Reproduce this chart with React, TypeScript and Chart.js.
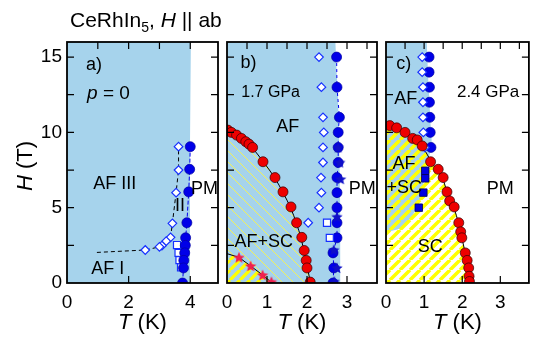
import React, { useEffect, useRef } from "react";
import { Chart, registerables } from "chart.js";
Chart.register(...registerables);

type P = [number, number]; // [T (K), H (T)]

// ---------- panel a : p = 0 ----------
const aNeelCircles: P[] = [[4.0, 9.05], [3.98, 7.55], [3.95, 6.05], [3.89, 4.0], [3.85, 3.0], [3.84, 2.5], [3.82, 2.0], [3.79, 1.5], [3.78, 1.0], [3.75, 0.0]];
const aDiamonds: P[] = [[3.62, 9.05], [3.62, 7.5], [3.54, 6.0], [3.42, 3.96], [3.36, 3.03], [3.22, 2.78], [3.08, 2.48], [3.0, 2.4], [2.54, 2.19]];
const aSquares: P[] = [[3.57, 2.52], [3.62, 2.0], [3.65, 1.52], [3.7, 1.04]];
const aPhaseLine: P[] = [[0.97, 2.03], [2.54, 2.19], [3.0, 2.4], [3.22, 2.78], [3.36, 3.03], [3.42, 3.96], [3.54, 6.0], [3.62, 7.5], [3.62, 9.05]];
const aAfEdge: P[] = [[3.98, 0], [3.99, 9], [4.02, 16]];

// ---------- panel b : 1.7 GPa ----------
const bNeelCircles: P[] = [[2.74, 15], [2.75, 13], [2.81, 11], [2.78, 10], [2.78, 9], [2.78, 8], [2.75, 7], [2.75, 6], [2.75, 5], [2.75, 4], [2.75, 3], [2.65, 2], [2.67, 1], [2.65, 0]];
const bNeelStars: P[] = [[2.78, 9], [2.82, 8], [2.84, 6.9], [2.75, 4.4], [2.67, 2.2], [2.75, 1.0], [2.68, 0.1]];
const bDiamonds: P[] = [[2.3, 15], [2.36, 13], [2.4, 11], [2.42, 10], [2.4, 9], [2.4, 8], [2.35, 7], [2.36, 6], [2.3, 5], [2.03, 4]];
const bSquares: P[] = [[2.5, 4.0], [2.57, 3.0]];
const bHc2Circles: P[] = [[0.02, 10.15], [0.11, 10.0], [0.24, 9.82], [0.36, 9.6], [0.47, 9.38], [0.55, 9.22], [0.64, 9.0], [0.9, 8.05], [1.2, 7.0], [1.4, 6.05], [1.6, 5.05], [1.74, 4.0], [1.87, 3.03], [1.93, 2.16], [1.98, 1.5], [2.0, 1.0], [2.08, 0.06]];
const bBulkStars: P[] = [[0.3, 1.7], [0.59, 1.13], [0.89, 0.53], [1.11, 0.08]];
const bHc2Line: P[] = [[2.09, 0], [2.01, 1], [1.93, 2], [1.85, 3], [1.73, 4], [1.59, 5], [1.4, 6], [1.19, 7], [0.92, 8], [0.62, 9], [0.32, 9.75], [0, 10.15]];
const bBulkLine: P[] = [[1.13, 0], [0.89, 0.53], [0.59, 1.13], [0.3, 1.7], [0, 1.95]];
const bAfEdge: P[] = [[2.84, 0], [2.83, 5], [2.8, 10], [2.77, 12.8], [2.74, 14], [2.71, 16]];

// ---------- panel c : 2.4 GPa ----------
const cNeelCircles: P[] = [[1.13, 15], [1.13, 14], [1.14, 13], [1.14, 12], [1.15, 11], [1.16, 10], [1.18, 9]];
const cDiamonds: P[] = [[0.95, 15], [0.95, 14], [0.97, 13], [0.97, 12], [0.97, 11], [0.98, 10], [1.02, 9]];
const cSquares: P[] = [[1.03, 7.45], [1.03, 6.95], [0.98, 6.0], [0.86, 5.0]];
const cHc2Circles: P[] = [[0.1, 10.45], [0.28, 10.3], [0.5, 10.0], [0.7, 9.6], [0.82, 9.5], [0.95, 9.1], [1.17, 8.05], [1.37, 7.55], [1.5, 7.0], [1.6, 6.05], [1.67, 5.45], [1.79, 5.05], [1.91, 4.0], [1.96, 3.4], [1.99, 3.0], [2.08, 2.0], [2.13, 1.5], [2.17, 1.0], [2.18, 0.45], [2.19, 0.1]];
const cHc2Line: P[] = [[2.2, 0], [2.18, 0.5], [2.16, 1.0], [2.08, 2.0], [1.99, 3.0], [1.9, 4.0], [1.78, 5.0], [1.61, 6.0], [1.47, 7.0], [1.2, 8.0], [0.96, 9.0], [0.65, 9.75], [0.3, 10.25], [0, 10.5]];
const cAfEdge: P[] = [[0, 3.4], [0.3, 3.55], [0.5, 3.9], [0.7, 4.5], [0.85, 5.2], [0.95, 6.2], [1.03, 7.2], [1.12, 8.3], [1.2, 9.2], [1.17, 10.5], [1.14, 12], [1.1, 14], [1.07, 16]];

// ---------- axes ----------
const H_MAX = 16;
const hTicks = [2.5, 5, 7.5, 10, 12.5, 15];
const aTMax = 4.9;
const bcTMax = 3.75;
const aTopTicks = [1, 2, 3, 4];
const aBottomTicks = [2, 4];
const bcTopTicks = [0.5, 1, 1.5, 2, 2.5, 3, 3.5];
const bcBottomTicks = [1, 2, 3];

const FONT = '"Liberation Sans", Arial, Helvetica, sans-serif';
const BLUE_FILL = "#a6d3ec";
const BLUE = "#0000ee";
const RED = "#ee0000";

type Seg = { t: string; it?: boolean; sub?: boolean };
type Label = { T: number; H: number; segs: Seg[]; size?: number; align?: "left" | "center" };

function drawRich(ctx: CanvasRenderingContext2D, segs: Seg[], x: number, yc: number, size: number, align: "left" | "center") {
  const fontOf = (s: Seg) => `${s.it ? "italic " : ""}${s.sub ? Math.round(size * 0.65) : size}px ${FONT}`;
  let w = 0;
  for (const s of segs) { ctx.font = fontOf(s); w += ctx.measureText(s.t).width; }
  let cx = align === "center" ? x - w / 2 : x;
  const base = yc + size * 0.358;
  ctx.textBaseline = "alphabetic";
  ctx.textAlign = "left";
  ctx.fillStyle = "#000";
  for (const s of segs) {
    ctx.font = fontOf(s);
    ctx.fillText(s.t, cx, s.sub ? base + size * 0.22 : base);
    cx += ctx.measureText(s.t).width;
  }
}

function decor(o: { xTop: number[]; xBottom: number[]; labels: Label[]; extra?: (c: any) => void }) {
  return {
    id: "decor",
    afterDatasetsDraw(chart: any) {
      const { ctx, chartArea: ca, scales } = chart;
      const x = scales.x, y = scales.y;
      ctx.save();
      for (const l of o.labels) {
        drawRich(ctx, l.segs, x.getPixelForValue(l.T), y.getPixelForValue(l.H), l.size ?? 18, l.align ?? "center");
      }
      const L = 7;
      ctx.strokeStyle = "#000";
      ctx.lineWidth = 1.2;
      ctx.beginPath();
      for (const v of o.xTop) { const p = x.getPixelForValue(v); ctx.moveTo(p, ca.top); ctx.lineTo(p, ca.top + L); }
      for (const v of o.xBottom) { const p = x.getPixelForValue(v); ctx.moveTo(p, ca.bottom); ctx.lineTo(p, ca.bottom - L); }
      for (const v of hTicks) {
        const p = y.getPixelForValue(v);
        ctx.moveTo(ca.left, p); ctx.lineTo(ca.left + L, p);
        ctx.moveTo(ca.right, p); ctx.lineTo(ca.right - L, p);
      }
      ctx.stroke();
      ctx.lineWidth = 1.8;
      ctx.strokeRect(ca.left, ca.top, ca.right - ca.left, ca.bottom - ca.top);
      const xt = (ca.left + ca.right) / 2;
      drawRich(ctx, [{ t: "T", it: true }, { t: " (K)" }], xt, 321.5, 22, "center");
      if (o.extra) o.extra(chart);
      ctx.restore();
    },
  };
}

function stripes(size: number, width: number, color: string, dir: 1 | -1, bg?: string) {
  const c = document.createElement("canvas");
  c.width = size; c.height = size;
  const g = c.getContext("2d")!;
  if (bg) { g.fillStyle = bg; g.fillRect(0, 0, size, size); }
  g.strokeStyle = color; g.lineWidth = width;
  g.beginPath();
  for (let k = -1; k <= 1; k++) {
    if (dir === 1) { g.moveTo(k * size, size); g.lineTo(k * size + size, 0); }
    else { g.moveTo(k * size, 0); g.lineTo(k * size + size, size); }
  }
  g.stroke();
  return g.createPattern(c, "repeat")!;
}

function starImg(color: string, R: number) {
  const s = Math.ceil(R * 2 + 2);
  const c = document.createElement("canvas");
  c.width = s; c.height = s;
  const g = c.getContext("2d")!;
  g.translate(s / 2, s / 2 + 0.5);
  g.beginPath();
  for (let i = 0; i < 10; i++) {
    const r = i % 2 === 0 ? R : R * 0.45;
    const a = -Math.PI / 2 + (i * Math.PI) / 5;
    g.lineTo(r * Math.cos(a), r * Math.sin(a));
  }
  g.closePath();
  g.fillStyle = color; g.fill();
  return c;
}

const pts = (a: P[]) => a.map(([x, y]) => ({ x, y }));
const markers = (data: P[], o: any) => ({ data: pts(data), showLine: false, clip: 0, ...o });
const region = (data: P[], bg: any, o: any = {}) => ({
  data: pts(data), indexAxis: "y", fill: "origin", backgroundColor: bg, borderWidth: 0, pointRadius: 0, tension: 0, ...o,
});
const circle = (bg: string, bd: string) => ({ pointStyle: "circle", pointRadius: 5, pointBackgroundColor: bg, pointBorderColor: bd, pointBorderWidth: 0.7 });
const diamond = { pointStyle: "rectRot", pointRadius: 4.3, pointBackgroundColor: "#fff", pointBorderColor: "#1530ff", pointBorderWidth: 1.2, order: 4 };
const openSquare = { pointStyle: "rect", pointRadius: 5, pointBackgroundColor: "#fff", pointBorderColor: "#1530ff", pointBorderWidth: 1.2, order: 4 };

function build(canvas: HTMLCanvasElement, cfg: { xMax: number; xStep: number; left: number; right: number; yAxis: boolean; datasets: any[]; plugin: any }) {
  const tickFont = { family: FONT, size: 19 };
  return new Chart(canvas, {
    type: "line",
    data: { datasets: cfg.datasets },
    options: {
      animation: false,
      responsive: false,
      devicePixelRatio: 1,
      events: [],
      layout: { padding: { left: cfg.left, right: cfg.right, top: 42, bottom: 0 } },
      plugins: { legend: { display: false }, tooltip: { enabled: false } },
      scales: {
        x: {
          type: "linear", min: 0, max: cfg.xMax,
          grid: { display: false, drawTicks: false, tickLength: 0 },
          border: { display: false },
          ticks: { stepSize: cfg.xStep, includeBounds: false, autoSkip: false, maxRotation: 0, padding: 8, color: "#000", font: tickFont },
          afterFit: (s: any) => { s.height = 56; },
        },
        y: cfg.yAxis
          ? {
              type: "linear", min: 0, max: H_MAX,
              grid: { display: false, drawTicks: false, tickLength: 0 },
              border: { display: false },
              ticks: { stepSize: 5, includeBounds: false, autoSkip: false, padding: 5, color: "#000", font: tickFont },
              afterFit: (s: any) => { s.width = 67; },
            }
          : { type: "linear", min: 0, max: H_MAX, display: false },
      },
    } as any,
    plugins: [cfg.plugin],
  });
}

export default function App() {
  const ra = useRef<HTMLCanvasElement>(null);
  const rb = useRef<HTMLCanvasElement>(null);
  const rc = useRef<HTMLCanvasElement>(null);

  useEffect(() => {
    const thin = stripes(11, 1, "#f2f25a", -1);
    const thickBlue = stripes(10, 3.3, "#ffff00", 1, BLUE_FILL);
    const thick = stripes(10, 3.5, "#ffff00", 1);
    const redStar = starImg("#f0204e", 6);
    const blueStar = starImg("#1010c8", 6);

    const chartA = build(ra.current!, {
      xMax: aTMax, xStep: 2, left: 0, right: 317, yAxis: true,
      datasets: [
        region(aAfEdge, BLUE_FILL, { order: 20 }),
        { data: pts(aPhaseLine), borderColor: "#000", borderWidth: 1, borderDash: [4, 3], pointRadius: 0, order: 10 },
        markers(aSquares, openSquare),
        markers(aDiamonds, diamond),
        { data: pts(aNeelCircles), clip: 0, borderColor: BLUE, borderWidth: 1, borderDash: [4, 2], ...circle("#0000e8", "#0000a0"), order: 3 },
      ],
      plugin: decor({
        xTop: aTopTicks, xBottom: aBottomTicks,
        labels: [
          { T: 0.62, H: 14.6, segs: [{ t: "a)" }], align: "left" },
          { T: 0.65, H: 12.7, segs: [{ t: "p", it: true }, { t: " = 0" }], align: "left", size: 19 },
          { T: 1.55, H: 6.7, segs: [{ t: "AF III" }] },
          { T: 3.67, H: 5.2, segs: [{ t: "II" }] },
          { T: 4.46, H: 6.35, segs: [{ t: "PM" }] },
          { T: 1.32, H: 1.03, segs: [{ t: "AF I" }] },
        ],
        extra: (chart: any) => {
          const ctx = chart.ctx;
          drawRich(ctx, [{ t: "CeRhIn" }, { t: "5", sub: true }, { t: ", " }, { t: "H", it: true }, { t: " || ab" }], 70, 19.5, 21, "left");
          ctx.save();
          ctx.translate(24, 166);
          ctx.rotate(-Math.PI / 2);
          drawRich(ctx, [{ t: "H", it: true }, { t: " (T)" }], 0, 0, 22, "center");
          ctx.restore();
        },
      }),
    });

    const chartB = build(rb.current!, {
      xMax: bcTMax, xStep: 1, left: 227, right: 158, yAxis: false,
      datasets: [
        region(bAfEdge, BLUE_FILL, { order: 20 }),
        region(bHc2Line, thin, { borderWidth: 1, borderColor: "#000", cubicInterpolationMode: "monotone", order: 15 }),
        region(bBulkLine, thickBlue, { borderWidth: 1, borderColor: "#000", order: 14 }),
        { data: pts(bNeelCircles), clip: 0, borderColor: BLUE, borderWidth: 1, borderDash: [3, 3], ...circle("#0000e8", "#0000a0"), order: 6 },
        markers(bNeelStars, { pointStyle: blueStar, order: 5 }),
        markers(bSquares, openSquare),
        markers(bDiamonds, diamond),
        markers(bHc2Circles, { ...circle(RED, "#300000"), order: 3 }),
        markers(bBulkStars, { pointStyle: redStar, order: 2 }),
      ],
      plugin: decor({
        xTop: bcTopTicks, xBottom: bcBottomTicks,
        labels: [
          { T: 0.34, H: 14.7, segs: [{ t: "b)" }], align: "left" },
          { T: 1.09, H: 12.72, segs: [{ t: "1.7 GPa" }], size: 16 },
          { T: 1.52, H: 10.43, segs: [{ t: "AF" }] },
          { T: 3.38, H: 6.34, segs: [{ t: "PM" }] },
          { T: 0.92, H: 2.85, segs: [{ t: "AF+SC" }] },
        ],
      }),
    });

    const chartC = build(rc.current!, {
      xMax: bcTMax, xStep: 1, left: 386, right: 0, yAxis: false,
      datasets: [
        region(cAfEdge, BLUE_FILL, { cubicInterpolationMode: "monotone", order: 20 }),
        region(cHc2Line, thick, { borderWidth: 1, borderColor: "#000", cubicInterpolationMode: "monotone", order: 15 }),
        markers(cNeelCircles, { ...circle("#0000e8", "#0000a0"), order: 6 }),
        markers(cDiamonds, diamond),
        markers(cSquares, { pointStyle: "rect", pointRadius: 5.3, pointBackgroundColor: "#0000e0", pointBorderColor: "#000050", pointBorderWidth: 0.8, order: 4 }),
        markers(cHc2Circles, { ...circle(RED, "#300000"), order: 3 }),
      ],
      plugin: decor({
        xTop: bcTopTicks, xBottom: bcBottomTicks,
        labels: [
          { T: 0.27, H: 14.66, segs: [{ t: "c)" }], align: "left" },
          { T: 0.52, H: 12.3, segs: [{ t: "AF" }] },
          { T: 2.68, H: 12.75, segs: [{ t: "2.4 GPa" }], size: 17 },
          { T: 0.47, H: 8.0, segs: [{ t: "AF" }] },
          { T: 0.48, H: 6.42, segs: [{ t: "+SC" }] },
          { T: 3.0, H: 6.35, segs: [{ t: "PM" }] },
          { T: 1.16, H: 2.47, segs: [{ t: "SC" }] },
        ],
      }),
    });

    return () => { chartA.destroy(); chartB.destroy(); chartC.destroy(); };
  }, []);

  const cs: React.CSSProperties = { position: "absolute", left: 0, top: 0 };
  return (
    <div style={{ position: "fixed", left: 0, top: 0, width: 535, height: 339, background: "#fff" }}>
      <canvas ref={ra} width={535} height={339} style={cs} />
      <canvas ref={rb} width={535} height={339} style={cs} />
      <canvas ref={rc} width={535} height={339} style={cs} />
    </div>
  );
}
